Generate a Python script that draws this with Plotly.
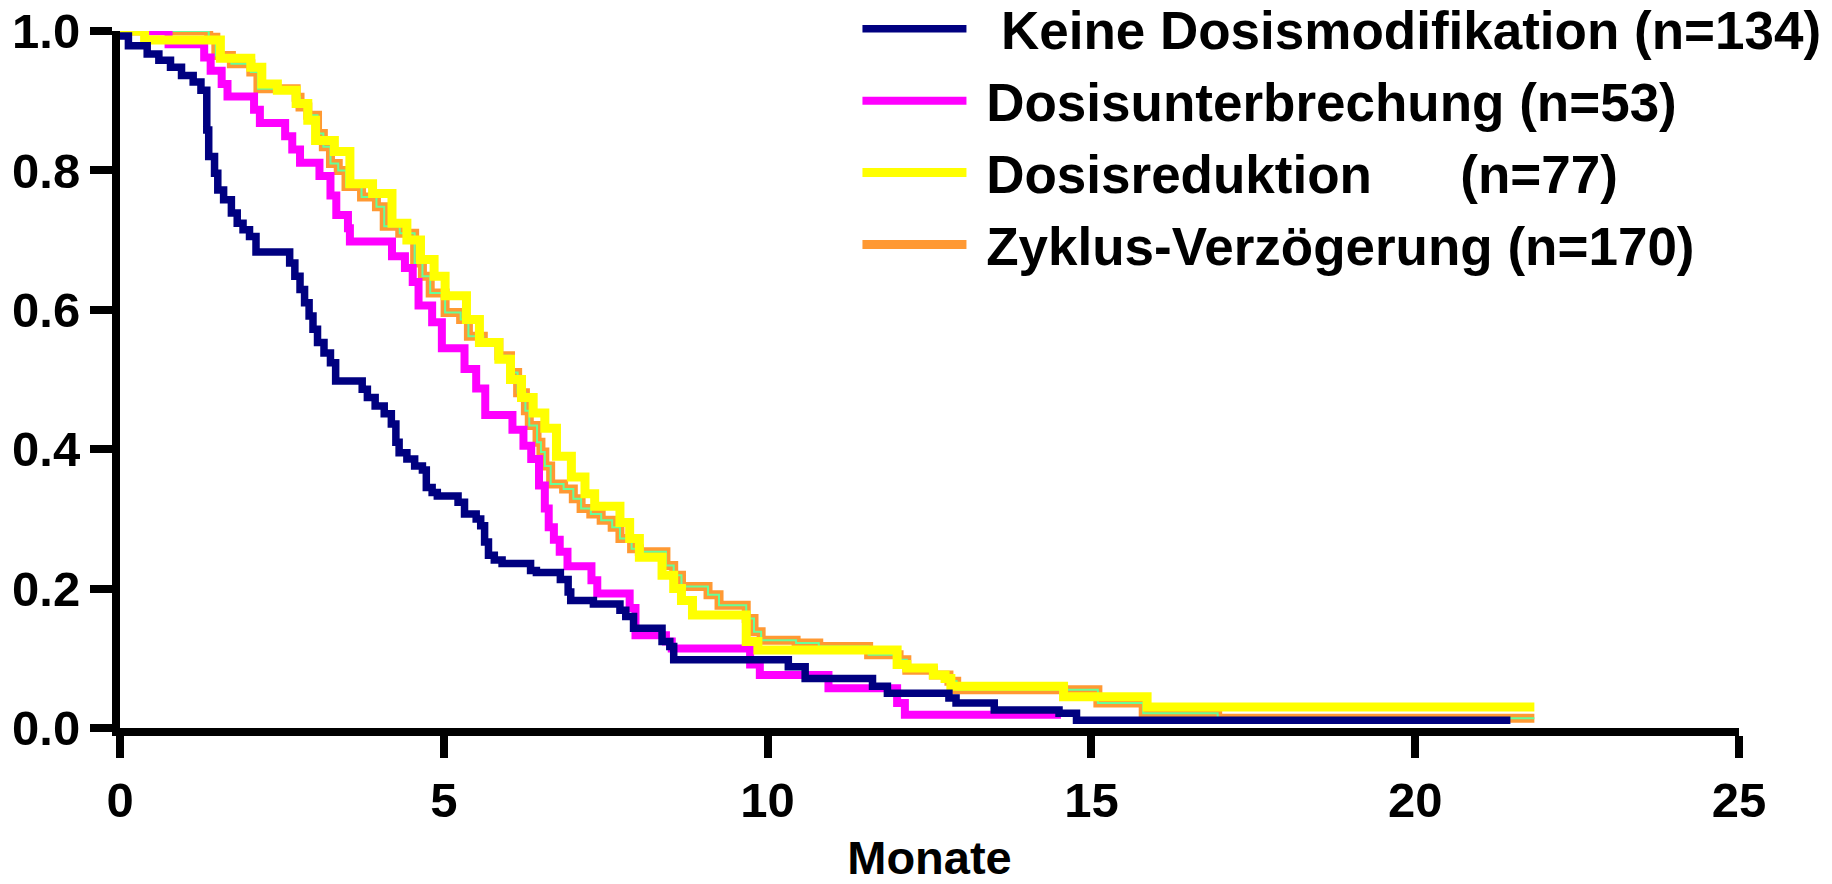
import plotly.graph_objects as go

# Kaplan-Meier step curves: start time of each plateau (Monate) and survival fraction
keine_t = [0, 0.13, 0.42, 0.6, 0.78, 0.95, 1.13, 1.25, 1.34, 1.37, 1.46, 1.51, 1.6, 1.72,
           1.81, 1.9, 2.0, 2.1, 2.62, 2.7, 2.78, 2.85, 2.92, 2.98, 3.05, 3.15, 3.25, 3.33,
           3.74, 3.82, 3.94, 4.08, 4.19, 4.26, 4.31, 4.43, 4.55, 4.67, 4.73, 4.82, 4.9,
           5.22, 5.32, 5.5, 5.57, 5.63, 5.69, 5.78, 5.9, 6.34, 6.43, 6.8, 6.92, 6.96, 7.31,
           7.72, 7.81, 7.93, 8.37, 8.49, 8.55, 10.32, 10.58, 11.62, 11.85, 12.8, 12.91,
           13.5, 14.5, 14.77, 21.47]
keine_s = [0.993, 0.979, 0.967, 0.958, 0.948, 0.936, 0.927, 0.915, 0.858, 0.82, 0.796, 0.772,
           0.758, 0.739, 0.724, 0.715, 0.705, 0.683, 0.667, 0.648, 0.629, 0.61, 0.591, 0.572,
           0.553, 0.538, 0.524, 0.498, 0.486, 0.474, 0.462, 0.451, 0.436, 0.41, 0.395, 0.386,
           0.376, 0.37, 0.345, 0.338, 0.333, 0.324, 0.307, 0.30, 0.29, 0.267, 0.248, 0.241,
           0.236, 0.226, 0.223, 0.213, 0.195, 0.183, 0.178, 0.169, 0.16, 0.143, 0.124, 0.117,
           0.098, 0.088, 0.071, 0.06, 0.05, 0.043, 0.036, 0.026, 0.021, 0.011, 0.011]

unterbr_t = [0, 0.75, 1.3, 1.4, 1.57, 1.66, 2.07, 2.16, 2.55, 2.66, 2.78, 3.08, 3.25, 3.34,
             3.52, 3.55, 4.2, 4.4, 4.52, 4.61, 4.82, 4.97, 5.32, 5.5, 5.64, 6.06, 6.23, 6.35,
             6.47, 6.56, 6.62, 6.7, 6.79, 6.91, 7.28, 7.37, 7.87, 7.96, 8.43, 8.52, 9.73,
             9.88, 10.94, 12.0, 12.12, 14.53]
unterbr_s = [1.0, 0.981, 0.962, 0.943, 0.924, 0.906, 0.887, 0.868, 0.849, 0.830, 0.811, 0.792,
             0.764, 0.736, 0.717, 0.698, 0.677, 0.66, 0.64, 0.606, 0.582, 0.545, 0.515, 0.487,
             0.449, 0.428, 0.405, 0.386, 0.348, 0.315, 0.288, 0.27, 0.253, 0.232, 0.212, 0.193,
             0.172, 0.133, 0.124, 0.114, 0.091, 0.076, 0.057, 0.036, 0.019, 0.019]

reduktion_t = [0, 0.38, 1.55, 2.02, 2.19, 2.43, 2.72, 2.9, 3.02, 3.31, 3.55, 3.9, 4.2, 4.43,
               4.64, 4.85, 5.02, 5.35, 5.55, 5.85, 6.03, 6.2, 6.38, 6.56, 6.74, 6.97, 7.18,
               7.33, 7.72, 7.87, 8.02, 8.37, 8.55, 8.67, 8.84, 9.67, 9.85, 12.0, 12.15, 12.56,
               12.74, 12.83, 14.57, 15.86, 21.84]
reduktion_s = [1.0, 0.987, 0.961, 0.948, 0.924, 0.915, 0.896, 0.872, 0.843, 0.827, 0.781,
               0.767, 0.724, 0.70, 0.672, 0.648, 0.62, 0.586, 0.553, 0.529, 0.50, 0.474, 0.452,
               0.43, 0.39, 0.36, 0.336, 0.318, 0.295, 0.272, 0.245, 0.219, 0.20, 0.183, 0.162,
               0.124, 0.112, 0.091, 0.086, 0.076, 0.071, 0.06, 0.045, 0.03, 0.03]

zyklus_t = [0, 1.37, 1.48, 1.72, 2.02, 2.13, 2.72, 2.78, 2.9, 3.05, 3.14, 3.25, 3.37, 3.49,
            3.73, 3.96, 4.08, 4.32, 4.55, 4.67, 4.79, 5.02, 5.26, 5.38, 5.61, 5.85, 6.03,
            6.14, 6.26, 6.32, 6.44, 6.5, 6.56, 6.65, 6.85, 7.0, 7.12, 7.27, 7.43, 7.6, 7.72,
            7.9, 8.02, 8.43, 8.55, 8.67, 9.08, 9.25, 9.67, 9.79, 9.9, 10.44, 10.79, 11.56,
            12.03, 12.15, 12.56, 12.8, 12.92, 15.1, 15.8, 16.95, 21.84]
zyklus_s = [1.0, 0.991, 0.965, 0.953, 0.941, 0.917, 0.905, 0.891, 0.879, 0.853, 0.834, 0.81,
            0.80, 0.777, 0.762, 0.748, 0.72, 0.71, 0.667, 0.648, 0.624, 0.596, 0.586, 0.562,
            0.553, 0.534, 0.51, 0.481, 0.455, 0.434, 0.41, 0.396, 0.376, 0.35, 0.343, 0.329,
            0.315, 0.307, 0.298, 0.288, 0.272, 0.257, 0.253, 0.233, 0.219, 0.203, 0.191, 0.176,
            0.157, 0.138, 0.126, 0.122, 0.117, 0.105, 0.098, 0.083, 0.076, 0.067, 0.055, 0.036,
            0.021, 0.014, 0.014]

x_ticks = [0, 5, 10, 15, 20, 25]
y_ticks = [0.0, 0.2, 0.4, 0.6, 0.8, 1.0]
y_ticktext = ["0.0", "0.2", "0.4", "0.6", "0.8", "1.0"]

NB = "\u00a0"
FONT = "Liberation Sans, Arial, sans-serif"

fig = go.Figure()

# Zyklus-Verzögerung: orange outline with a thin light green core
fig.add_trace(go.Scatter(
    x=zyklus_t, y=zyklus_s, mode="lines", line=dict(color="#FF9933", width=9, shape="hv"),
    name=NB + "Zyklus-Verzögerung (n=170)", legendrank=4, legendgroup="d"))
fig.add_trace(go.Scatter(
    x=zyklus_t, y=zyklus_s, mode="lines", line=dict(color="#66FF99", width=2, shape="hv"),
    showlegend=False, hoverinfo="skip", legendgroup="d"))
fig.add_trace(go.Scatter(
    x=unterbr_t, y=unterbr_s, mode="lines", line=dict(color="#FF00FF", width=8, shape="hv"),
    name=NB + "Dosisunterbrechung (n=53)", legendrank=2, legendgroup="b"))
fig.add_trace(go.Scatter(
    x=reduktion_t, y=reduktion_s, mode="lines", line=dict(color="#FFFF00", width=9, shape="hv"),
    name=NB + "Dosisreduktion" + NB * 6 + "(n=77)", legendrank=3, legendgroup="c"))
fig.add_trace(go.Scatter(
    x=keine_t, y=keine_s, mode="lines", line=dict(color="#000080", width=7.5, shape="hv"),
    name=NB * 2 + "Keine Dosismodifikation (n=134)", legendrank=1, legendgroup="a"))

tick_font = dict(family=FONT, size=49, color="black", weight="bold")
title_font = dict(family=FONT, size=47, color="black", weight="bold")

fig.update_layout(
    width=1832, height=884,
    margin=dict(l=120, r=92.5, t=30.5, b=156, autoexpand=False),
    paper_bgcolor="white", plot_bgcolor="white",
    showlegend=True,
    legend=dict(
        x=0.4555, y=1.062, xanchor="left", yanchor="top",
        font=dict(family=FONT, size=53, color="black", weight="bold"),
        itemwidth=104, tracegroupgap=0, traceorder="grouped",
        bgcolor="rgba(0,0,0,0)", borderwidth=0,
    ),
    xaxis=dict(
        range=[0, 25], tickvals=x_ticks, ticks="outside", ticklen=22, tickwidth=8,
        tickcolor="black", showline=True, linewidth=8, linecolor="black",
        showgrid=False, zeroline=False, tickfont=tick_font,
        title=dict(text="Monate", font=title_font, standoff=38),
    ),
    yaxis=dict(
        range=[0, 1], tickvals=y_ticks, ticktext=y_ticktext, ticks="outside", ticklen=22,
        tickwidth=8, tickcolor="black", showline=True, linewidth=8, linecolor="black",
        showgrid=False, zeroline=False, tickfont=tick_font,
    ),
)

fig.write_html("out.html")
